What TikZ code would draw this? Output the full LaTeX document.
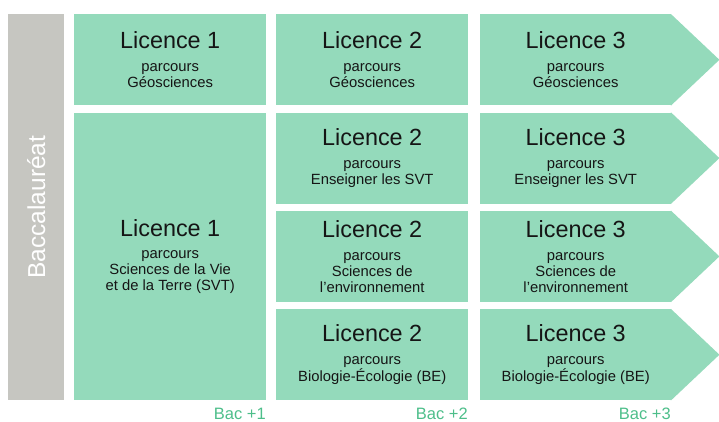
\documentclass[tikz,border=0pt]{standalone}
\usepackage{fontspec}
\setmainfont{Liberation Sans}
\definecolor{boxgreen}{HTML}{94DABB}
\definecolor{bargray}{HTML}{C6C6C1}
\definecolor{bacgreen}{HTML}{4DBE8A}
\definecolor{ink}{HTML}{151515}
\newcommand\titlesz{\fontsize{23.4}{26}\selectfont}
\newcommand\bodysz{\fontsize{14.8}{15.8}\selectfont}
\tikzset{
  lbox/.style={fill=boxgreen, draw=none, inner sep=0pt, anchor=north west, align=center,
    text=ink, font=\bodysz, minimum width=192pt, minimum height=91.2pt},
  abox/.style={lbox, minimum width=191pt},
  tip/.style={fill=boxgreen, draw=none},
  baclbl/.style={anchor=base east, text=bacgreen, font=\fontsize{16.5}{19}\selectfont, inner sep=0pt}
}
\begin{document}
\begin{tikzpicture}[x=1pt,y=-1pt]
\useasboundingbox (0,0) rectangle (719,421);
% Baccalaureat bar
\node[fill=bargray, inner sep=0pt, anchor=north west, minimum width=56pt, minimum height=386pt] (bac) at (8,14) {};
\node[rotate=90, text=white, font=\fontsize{24.5}{28}\selectfont, inner sep=0pt] (bactxt) at (bac.center) {Baccalauréat};
% Column 1
\node[lbox] (l1a) at (74,14) {{\titlesz Licence 1}\\[7pt]parcours\\Géosciences};
\node[lbox, minimum height=287.8pt] (l1b) at (74,112.3) {{\titlesz Licence 1}\\[7pt]parcours\\Sciences de la Vie\\et de la Terre (SVT)};
% Column 2
\node[lbox] (l2a) at (276,14) {{\titlesz Licence 2}\\[7pt]parcours\\Géosciences};
\node[lbox] (l2b) at (276,112.3) {{\titlesz Licence 2}\\[7pt]parcours\\Enseigner les SVT};
\node[lbox] (l2c) at (276,210.6) {{\titlesz Licence 2}\\[7pt]parcours\\Sciences de\\l’environnement};
\node[lbox] (l2d) at (276,308.9) {{\titlesz Licence 2}\\[7pt]parcours\\Biologie-Écologie (BE)};
% Column 3
\node[abox] (l3a) at (480,14) {{\titlesz Licence 3}\\[7pt]parcours\\Géosciences};
\node[abox] (l3b) at (480,112.3) {{\titlesz Licence 3}\\[7pt]parcours\\Enseigner les SVT};
\node[abox] (l3c) at (480,210.6) {{\titlesz Licence 3}\\[7pt]parcours\\Sciences de\\l’environnement};
\node[abox] (l3d) at (480,308.9) {{\titlesz Licence 3}\\[7pt]parcours\\Biologie-Écologie (BE)};
\foreach \n in {l3a,l3b,l3c,l3d}{
  \fill[tip] ([xshift=-0.5pt]\n.north east) -- ([xshift=48pt]\n.east) -- ([xshift=-0.5pt]\n.south east) -- cycle;
}
% Bac labels
\node[baclbl] (b1) at (266,419) {Bac +1};
\node[baclbl] (b2) at (468,419) {Bac +2};
\node[baclbl] (b3) at (671,419) {Bac +3};
\end{tikzpicture}
\end{document}
